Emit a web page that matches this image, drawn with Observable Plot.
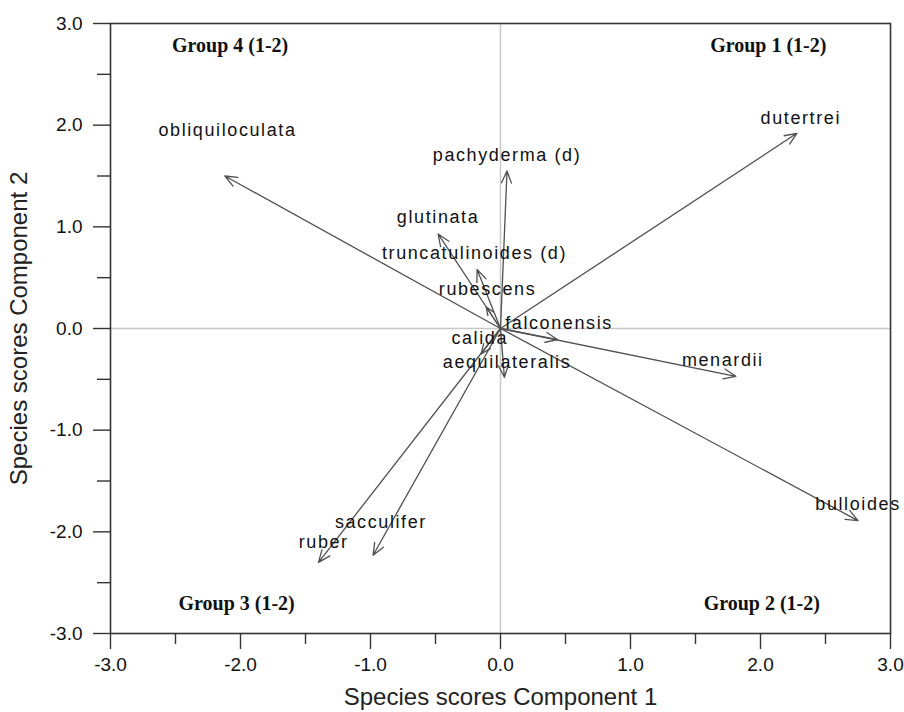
<!DOCTYPE html>
<html>
<head>
<meta charset="utf-8">
<script src="https://cdn.jsdelivr.net/npm/d3@7"></script>
<script src="https://cdn.jsdelivr.net/npm/@observablehq/plot@0.6"></script>
<style>
  html, body { margin: 0; padding: 0; background: #fff; }
  #chart { width: 904px; height: 712px; }
  .species text { letter-spacing: 1.6px; }
  .ticklab text { font-size: 19px !important; fill: #111; }
</style>
</head>
<body>
<div id="chart"></div>
<script>
// Species arrow end points (scores)
const species = ["dutertrei", "obliquiloculata", "pachyderma (d)", "glutinata", "truncatulinoides (d)", "rubescens", "falconensis", "menardii", "bulloides", "calida", "aequilateralis", "sacculifer", "ruber"];
const comp1 = [2.28, -2.12, 0.05, -0.48, -0.18, -0.11, 0.44, 1.81, 2.75, -0.15, 0.03, -0.98, -1.40];
const comp2 = [1.92, 1.50, 1.55, 0.93, 0.58, 0.21, -0.11, -0.47, -1.89, -0.25, -0.48, -2.23, -2.30];
// Label anchor positions (scores)
const labelX = [2.31, -2.10, 0.05, -0.48, -0.20, -0.10, 0.45, 1.71, 2.75, -0.16, 0.05, -0.92, -1.36];
const labelY = [2.07, 1.95, 1.70, 1.09, 0.74, 0.39, 0.05, -0.31, -1.73, -0.10, -0.33, -1.91, -2.10];

const groups = ["Group 4 (1-2)", "Group 1 (1-2)", "Group 3 (1-2)", "Group 2 (1-2)"];
const groupX = [-2.08, 2.06, -2.03, 2.01];
const groupY = [2.78, 2.78, -2.71, -2.71];

const majorTicks = [-3, -2, -1, 0, 1, 2, 3];
const minorTicks = [-2.5, -1.5, -0.5, 0.5, 1.5, 2.5];

const xTitle = "Species scores Component 1";
const yTitle = "Species scores Component 2";

const arrows = species.map((s, i) => ({name: s, x: comp1[i], y: comp2[i], lx: labelX[i], ly: labelY[i]}));
const groupData = groups.map((g, i) => ({name: g, x: groupX[i], y: groupY[i]}));

const fmt = d => d.toFixed(1);
const sans = "Liberation Sans, Arial, Helvetica, sans-serif";

const chart = Plot.plot({
  width: 904,
  height: 712,
  marginLeft: 110,
  marginRight: 14,
  marginTop: 23,
  marginBottom: 79,
  style: {fontFamily: sans, background: "#fff", fontSize: "18px"},
  x: {domain: [-3, 3]},
  y: {domain: [-3, 3]},
  marks: [
    Plot.ruleX([0], {stroke: "#c8c8c8", strokeWidth: 1.5}),
    Plot.ruleY([0], {stroke: "#c8c8c8", strokeWidth: 1.5}),
    Plot.arrow(arrows, {
      x1: () => 0, y1: () => 0, x2: "x", y2: "y",
      stroke: "#505050", strokeWidth: 1.3, headLength: 15, headAngle: 45
    }),
    Plot.text(arrows, {
      x: "lx", y: "ly", text: "name", className: "species",
      fontSize: 18, fill: "#111", textAnchor: "middle"
    }),
    Plot.text(groupData, {
      x: "x", y: "y", text: "name",
      fontSize: 20, fontWeight: "bold", fontFamily: "Liberation Serif, Times New Roman, serif", fill: "#111"
    }),
    Plot.frame({stroke: "#333", strokeWidth: 1.6}),
    Plot.axisX({ticks: majorTicks, tickFormat: fmt, tickSize: 16, tickPadding: 8, className: "ticklab", stroke: "#333", strokeWidth: 1.4, label: null}),
    Plot.axisX({ticks: minorTicks, tickFormat: () => "", tickSize: 11, stroke: "#333", strokeWidth: 1.4, label: null}),
    Plot.axisY({ticks: majorTicks, tickFormat: fmt, tickSize: 17, tickPadding: 11, className: "ticklab", stroke: "#333", strokeWidth: 1.4, label: null}),
    Plot.axisY({ticks: minorTicks, tickFormat: () => "", tickSize: 13, stroke: "#333", strokeWidth: 1.4, label: null}),
    Plot.text([xTitle], {
      frameAnchor: "bottom", dy: 71, text: d => d, fontSize: 24, fill: "#222"
    }),
    Plot.text([yTitle], {
      frameAnchor: "left", textAnchor: "middle", dx: -91, rotate: -90, text: d => d, fontSize: 24, fill: "#222"
    })
  ]
});
document.getElementById("chart").appendChild(chart);
</script>
</body>
</html>
